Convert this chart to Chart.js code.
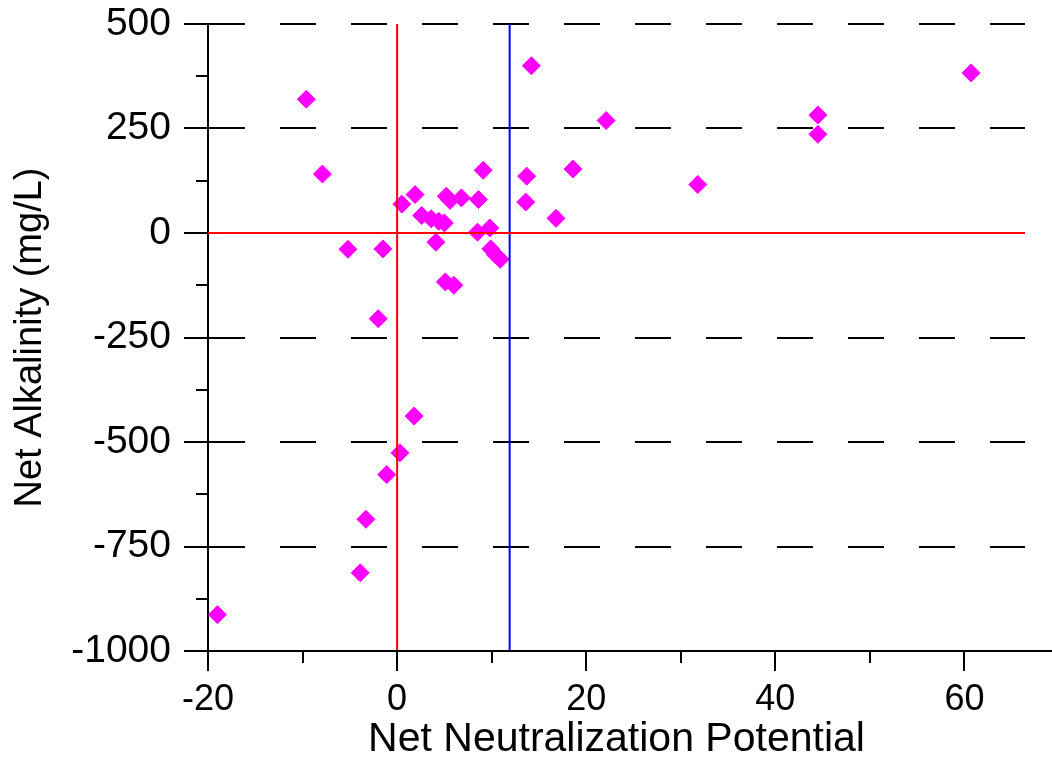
<!DOCTYPE html>
<html>
<head>
<meta charset="utf-8">
<script src="https://cdn.jsdelivr.net/npm/chart.js@4.4.1/dist/chart.umd.min.js"></script>
<style>
  body { margin: 0; background: #fff; }
  #wrap { width: 1052px; height: 757px; }
</style>
</head>
<body>
<div id="wrap"><canvas id="myChart" width="1052" height="757"></canvas></div>
<script>
// Puntos
const nnp = [-19.0, -9.6, -7.9, -5.2, -3.9, -3.3, -2.0, -1.5, -1.1, 0.3,
  0.5, 1.8, 1.9, 2.6, 3.6, 4.1, 4.4, 5.0, 5.1, 5.2,
  5.6, 6.0, 6.8, 8.6, 8.5, 9.1, 9.8, 9.9, 10.4, 10.9,
  13.6, 13.7, 14.2, 16.8, 18.6, 22.1, 31.8, 44.5, 44.5, 60.7];
const netAlk = [-913, 320, 141, -39, -813, -685, -205, -38, -578, -526,
  69, -438, 92, 42, 34, -22, 28, 24, -117, 88,
  78, -125, 84, 80, 2, 150, 12, -38, -52, -63,
  74, 136, 400, 35, 153, 269, 116, 282, 236, 383];

// Lineas de referencia
const zeroX = 0;
const zeroY = 0;
const limitX = 11.9;

// Ejes
const xMin = -20, xMax = 66.4;
const yMin = -1000, yMax = 500;
const xTicks = [-20, 0, 20, 40, 60];
const xMinor = [-10, 10, 30, 50];
const yTicks = [-1000, -750, -500, -250, 0, 250, 500];
const yMinor = [-875, -625, -375, -125, 125, 375];

const fontFamily = "'Liberation Sans', Arial, sans-serif";

const points = nnp.map((x, i) => ({ x: x, y: netAlk[i] }));

// Marcas de los ejes (mayores y menores) y eje x extendido
const axisMarks = {
  id: "axisMarks",
  afterDatasetsDraw(chart) {
    const ctx = chart.ctx;
    const xs = chart.scales.x;
    const ys = chart.scales.y;
    const area = chart.chartArea;
    ctx.save();
    ctx.strokeStyle = "#000";
    ctx.lineWidth = 2;
    ctx.beginPath();
    ctx.moveTo(184, area.bottom);
    ctx.lineTo(1052, area.bottom);
    yTicks.forEach((v) => {
      const p = Math.round(ys.getPixelForValue(v));
      ctx.moveTo(184, p);
      ctx.lineTo(area.left, p);
    });
    yMinor.forEach((v) => {
      const p = Math.round(ys.getPixelForValue(v));
      ctx.moveTo(196, p);
      ctx.lineTo(area.left, p);
    });
    xTicks.forEach((v) => {
      const p = Math.round(xs.getPixelForValue(v));
      ctx.moveTo(p, area.bottom);
      ctx.lineTo(p, area.bottom + 20);
    });
    xMinor.forEach((v) => {
      const p = Math.round(xs.getPixelForValue(v));
      ctx.moveTo(p, area.bottom);
      ctx.lineTo(p, area.bottom + 12);
    });
    ctx.stroke();
    ctx.restore();
  },
};

const chartContext = document.getElementById("myChart").getContext("2d");
new Chart(chartContext, {
  type: "scatter",
  data: {
    datasets: [
      {
        label: "NNP = 0",
        data: [{ x: zeroX, y: yMin }, { x: zeroX, y: yMax }],
        showLine: true,
        borderColor: "#ff0000",
        borderWidth: 2,
        pointRadius: 0,
      },
      {
        label: "NA = 0",
        data: [{ x: xMin, y: zeroY }, { x: xMax, y: zeroY }],
        showLine: true,
        borderColor: "#ff0000",
        borderWidth: 2,
        pointRadius: 0,
      },
      {
        label: "NNP limite",
        data: [{ x: limitX, y: yMin }, { x: limitX, y: yMax }],
        showLine: true,
        borderColor: "#0000ff",
        borderWidth: 2,
        pointRadius: 0,
      },
      {
        label: "Muestras",
        data: points,
        pointStyle: "rectRot",
        pointRadius: 9,
        backgroundColor: "#ff00ff",
        borderColor: "#ff00ff",
        borderWidth: 1,
      },
    ],
  },
  options: {
    responsive: false,
    animation: false,
    events: [],
    layout: { padding: { top: 24, right: 27, left: 0, bottom: 0 } },
    plugins: {
      legend: { display: false },
      tooltip: { enabled: false },
    },
    scales: {
      x: {
        type: "linear",
        min: xMin,
        max: xMax,
        afterBuildTicks: (scale) => {
          scale.ticks = xTicks.map((v) => ({ value: v }));
        },
        afterFit: (scale) => {
          scale.height = 106;
          scale.paddingLeft = 0;
          scale.paddingRight = 0;
        },
        grid: { display: false, drawTicks: false },
        border: { display: false },
        ticks: {
          color: "#000",
          padding: 27,
          maxRotation: 0,
          font: { family: fontFamily, size: 36 },
          callback: (v) => String(v),
        },
        title: {
          display: true,
          text: "Net Neutralization Potential",
          color: "#000",
          padding: { top: 0, bottom: 0 },
          font: { family: fontFamily, size: 41, lineHeight: 0.85 },
        },
      },
      y: {
        type: "linear",
        min: yMin,
        max: yMax,
        afterBuildTicks: (scale) => {
          scale.ticks = yTicks.map((v) => ({ value: v }));
        },
        afterFit: (scale) => {
          scale.width = 208;
          scale.paddingTop = 0;
          scale.paddingBottom = 0;
        },
        grid: {
          drawTicks: false,
          lineWidth: 2,
          color: (c) =>
            c.tick && c.tick.value !== 0 && c.tick.value !== yMin ? "#000" : "rgba(0,0,0,0)",
        },
        border: { display: true, color: "#000", width: 2, dash: [36, 35] },
        ticks: {
          color: "#000",
          padding: 37,
          font: { family: fontFamily, size: 39 },
          callback: (v) => String(v),
        },
        title: {
          display: true,
          text: "Net Alkalinity (mg/L)",
          color: "#000",
          align: "center",
          padding: { top: 12, bottom: 0 },
          font: { family: fontFamily, size: 38, lineHeight: 1 },
        },
      },
    },
  },
  plugins: [axisMarks],
});
</script>
</body>
</html>
